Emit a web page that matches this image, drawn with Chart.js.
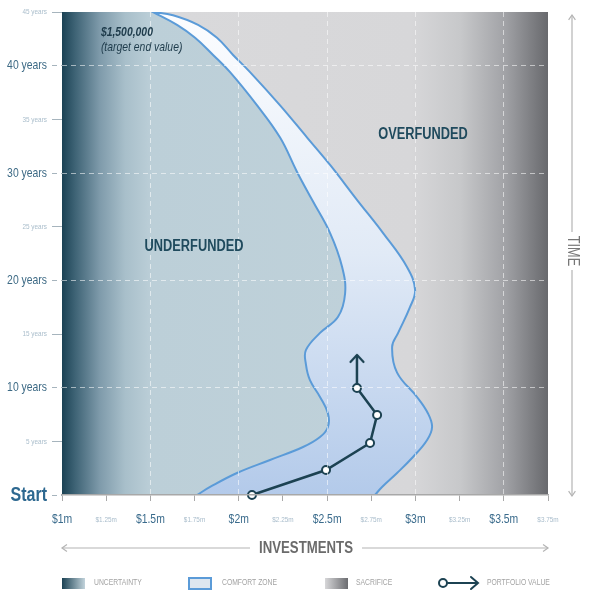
<!DOCTYPE html>
<html>
<head>
<meta charset="utf-8">
<script src="https://cdn.jsdelivr.net/npm/chart.js@4.4.1/dist/chart.umd.min.js"></script>
<style>
  html, body { margin: 0; padding: 0; background: #fff; }
  #wrap { width: 590px; height: 600px; position: relative; }
</style>
</head>
<body>
<div id="wrap"><canvas id="comfortChart"></canvas></div>
<script>
const FONT = "'Liberation Sans', Arial, sans-serif";
const SQUEEZE = 0.8; // no condensed face installed, so text is narrowed by hand
const DARK = "#1c4252";

// comfort zone, left edge (bottom -> top): years vs portfolio value ($m)
const lowerEdgeYears = [0, 0.75, 2.05, 3.26, 4.47, 5.4, 6.34, 7.6, 9.13, 10.7, 12.2, 13.5, 15.1, 16.6, 18.8, 21.25, 24.4, 27.5, 30.1, 33.3, 36.3, 39.4, 41.0, 42.6, 43.8, 45];
const lowerEdgeValue = [1.764, 1.838, 1.99, 2.177, 2.364, 2.46, 2.505, 2.505, 2.46, 2.403, 2.38, 2.38, 2.46, 2.562, 2.602, 2.585, 2.517, 2.415, 2.33, 2.234, 2.104, 1.951, 1.855, 1.753, 1.651, 1.515];

// comfort zone, right edge (top -> bottom)
const upperEdgeYears = [45, 44.7, 43.8, 42.6, 41.0, 39.4, 36.3, 33.3, 30.75, 27.5, 24.4, 21.25, 19.1, 17.5, 15.1, 13.8, 11.4, 9.13, 7.6, 6.34, 5.13, 3.54, 2.05, 0.75, 0];
const upperEdgeValue = [1.515, 1.628, 1.77, 1.877, 1.968, 2.064, 2.234, 2.387, 2.517, 2.669, 2.817, 2.952, 2.998, 2.969, 2.902, 2.868, 2.896, 3.009, 3.071, 3.094, 3.066, 2.986, 2.896, 2.811, 2.771];

// portfolio value path
const portfolioYears = [0, 2.33, 4.85, 7.46, 9.97, 13.05];
const portfolioValue = [2.075, 2.494, 2.743, 2.783, 2.669, 2.669];

const yearTicks = [0, 5, 10, 15, 20, 25, 30, 35, 40, 45];
const valueTicks = [1, 1.25, 1.5, 1.75, 2, 2.25, 2.5, 2.75, 3, 3.25, 3.5, 3.75];
const majorValues = [1, 1.5, 2, 2.5, 3, 3.5];

const zip = (xs, ys) => xs.map((x, i) => ({ x: x, y: ys[i] }));
const lowerEdge = zip(lowerEdgeValue, lowerEdgeYears);
const upperEdge = zip(upperEdgeValue, upperEdgeYears);
const lastUpper = upperEdge[upperEdge.length - 1];

// underfunded area: everything left of the upper edge, closed outside the plot
const underfunded = upperEdge.concat([
  { x: lastUpper.x, y: lastUpper.y },
  { x: lastUpper.x, y: -4 },
  { x: 0.8, y: -4 },
  { x: 0.8, y: 49 },
  { x: upperEdge[0].x, y: 49 }
]);

// arrow head for the last portfolio point
const arrowHead = document.createElement("canvas");
arrowHead.width = 20;
arrowHead.height = 20;
(function () {
  const c = arrowHead.getContext("2d");
  c.strokeStyle = DARK;
  c.lineWidth = 2.2;
  c.lineCap = "round";
  c.lineJoin = "round";
  c.beginPath();
  c.moveTo(3.5, 17);
  c.lineTo(10, 10);
  c.lineTo(16.5, 17);
  c.stroke();
})();

function underfundedFill(ctx) {
  const area = ctx.chart.chartArea;
  if (!area) return "#c1d2da";
  const w = area.right - area.left;
  const g = ctx.chart.ctx.createLinearGradient(area.left, 0, area.right, 0);
  g.addColorStop(0, "#1b4254");
  g.addColorStop(13 / w, "#3e6375");
  g.addColorStop(38 / w, "#7f9bab");
  g.addColorStop(63 / w, "#a8bfca");
  g.addColorStop(90 / w, "#bccfd8");
  g.addColorStop(1, "#c2d3db");
  return g;
}

function comfortFill(ctx) {
  const area = ctx.chart.chartArea;
  if (!area) return "#dce7f4";
  const g = ctx.chart.ctx.createLinearGradient(0, area.top, 0, area.bottom);
  g.addColorStop(0, "#fcfdff");
  g.addColorStop(0.5, "#e1eaf6");
  g.addColorStop(1, "#b3caea");
  return g;
}

function narrowText(ctx, text, x, y, font, color, align) {
  ctx.save();
  ctx.translate(x, y);
  ctx.scale(SQUEEZE, 1);
  ctx.font = font;
  ctx.fillStyle = color;
  ctx.textAlign = align || "center";
  ctx.textBaseline = "middle";
  ctx.fillText(text, 0, 0);
  ctx.restore();
}

// draw a scale's tick labels squeezed horizontally, keeping their anchor points
function squeezeLabels(scale) {
  if (scale._squeezed) return;
  scale._squeezed = true;
  const items = scale.getLabelItems.bind(scale);
  const draw = scale.drawLabels.bind(scale);
  scale.drawLabels = function (area) {
    const ctx = this.ctx;
    this.getLabelItems = a => items(a).map(it => Object.assign({}, it, {
      options: Object.assign({}, it.options, {
        translation: [it.options.translation[0] / SQUEEZE, it.options.translation[1]]
      })
    }));
    this._computeLabelArea = () => undefined;
    ctx.save();
    ctx.scale(SQUEEZE, 1);
    draw(area);
    ctx.restore();
    delete this.getLabelItems;
    delete this._computeLabelArea;
  };
}

const backdrop = {
  id: "backdrop",
  afterLayout(chart) {
    squeezeLabels(chart.scales.x);
    squeezeLabels(chart.scales.y);
  },
  beforeDraw(chart) {
    const { ctx, chartArea: a } = chart;
    const g = ctx.createLinearGradient(a.left, 0, a.right, 0);
    g.addColorStop(0, "#dadadc");
    g.addColorStop(0.72, "#d7d7d9");
    g.addColorStop(0.82, "#c7c8ca");
    g.addColorStop(0.91, "#a2a3a7");
    g.addColorStop(1, "#68696d");
    ctx.save();
    ctx.fillStyle = g;
    ctx.fillRect(a.left, a.top, a.right - a.left, a.bottom - a.top);
    ctx.restore();
  }
};

function arrowLine(ctx, x1, y1, x2, y2) {
  ctx.beginPath();
  ctx.moveTo(x1, y1);
  ctx.lineTo(x2, y2);
  ctx.stroke();
  const ang = Math.atan2(y2 - y1, x2 - x1);
  ctx.beginPath();
  ctx.moveTo(x2 - 6 * Math.cos(ang - 0.6), y2 - 6 * Math.sin(ang - 0.6));
  ctx.lineTo(x2, y2);
  ctx.lineTo(x2 - 6 * Math.cos(ang + 0.6), y2 - 6 * Math.sin(ang + 0.6));
  ctx.stroke();
}

const annotations = {
  id: "annotations",
  afterDraw(chart) {
    const { ctx, chartArea: a, scales: { x, y } } = chart;
    ctx.save();

    // target note
    narrowText(ctx, "$1,500,000", x.getPixelForValue(1.22), y.getPixelForValue(43.06), "italic bold 13px " + FONT, "#1e3b4b", "left");
    narrowText(ctx, "(target end value)", x.getPixelForValue(1.22), y.getPixelForValue(41.66), "italic 13px " + FONT, "#1e3b4b", "left");

    // region labels
    narrowText(ctx, "UNDERFUNDED", x.getPixelForValue(1.747), y.getPixelForValue(23.1), "bold 16px " + FONT, "#1f4a5d");
    narrowText(ctx, "OVERFUNDED", x.getPixelForValue(3.043), y.getPixelForValue(33.6), "bold 16px " + FONT, "#1f4a5d");

    // investments axis arrow
    ctx.strokeStyle = "#b4b4b4";
    ctx.lineWidth = 1.2;
    arrowLine(ctx, 250, 548, a.left, 548);
    arrowLine(ctx, 362, 548, a.right, 548);
    narrowText(ctx, "INVESTMENTS", (a.left + a.right) / 2 + 1, 548, "bold 16.5px " + FONT, "#6b6b6b");

    // time axis arrow
    arrowLine(ctx, 572, 232, 572, 15);
    arrowLine(ctx, 572, 270, 572, 496);
    ctx.save();
    ctx.translate(572, 251);
    ctx.rotate(Math.PI / 2);
    narrowText(ctx, "TIME", 0, 0, "16px " + FONT, "#777");
    ctx.restore();

    // legend
    const ly = 583;
    let g = ctx.createLinearGradient(62, 0, 85, 0);
    g.addColorStop(0, "#1b4254");
    g.addColorStop(1, "#c2d3db");
    ctx.fillStyle = g;
    ctx.fillRect(62, ly - 5, 23, 11);

    ctx.fillStyle = "#dde6ef";
    ctx.fillRect(189, ly - 5, 22, 11);
    ctx.strokeStyle = "#5b9bd8";
    ctx.lineWidth = 2;
    ctx.strokeRect(189, ly - 5, 22, 11);

    g = ctx.createLinearGradient(325, 0, 348, 0);
    g.addColorStop(0, "#d7d7d9");
    g.addColorStop(1, "#6b6c70");
    ctx.fillStyle = g;
    ctx.fillRect(325, ly - 5, 23, 11);

    ctx.strokeStyle = DARK;
    ctx.lineWidth = 2;
    ctx.lineCap = "round";
    ctx.beginPath();
    ctx.moveTo(448, ly);
    ctx.lineTo(478, ly);
    ctx.moveTo(471, ly - 6);
    ctx.lineTo(478, ly);
    ctx.lineTo(471, ly + 6);
    ctx.stroke();
    ctx.beginPath();
    ctx.arc(443, ly, 4, 0, Math.PI * 2);
    ctx.fillStyle = "#fff";
    ctx.fill();
    ctx.stroke();

    const lf = "8.5px " + FONT;
    narrowText(ctx, "UNCERTAINTY", 94, ly, lf, "#a3a3a3", "left");
    narrowText(ctx, "COMFORT ZONE", 222, ly, lf, "#a3a3a3", "left");
    narrowText(ctx, "SACRIFICE", 356, ly, lf, "#a3a3a3", "left");
    narrowText(ctx, "PORTFOLIO VALUE", 487, ly, lf, "#a3a3a3", "left");
    ctx.restore();
  }
};

const isMajor = v => majorValues.some(m => Math.abs(m - v) < 1e-6);
const tickVal = c => (c && c.tick ? c.tick.value : null);

new Chart(document.getElementById("comfortChart"), {
  type: "line",
  data: {
    datasets: [
      {
        label: "Portfolio value",
        data: zip(portfolioValue, portfolioYears),
        borderColor: DARK,
        borderWidth: 2.5,
        tension: 0,
        fill: false,
        clip: false,
        pointStyle: portfolioYears.map((_, i) => i === portfolioYears.length - 1 ? arrowHead : "circle"),
        pointRadius: 4,
        pointBorderWidth: 2,
        pointBackgroundColor: "#fff",
        pointBorderColor: DARK,
        order: 0
      },
      {
        label: "Comfort zone",
        data: lowerEdge.concat(upperEdge),
        borderColor: "#5b9bd8",
        borderWidth: 2,
        backgroundColor: comfortFill,
        fill: "shape",
        tension: 0.4,
        pointRadius: 0,
        order: 1
      },
      {
        label: "Underfunded",
        data: underfunded,
        borderWidth: 0,
        borderColor: "rgba(0,0,0,0)",
        backgroundColor: underfundedFill,
        fill: "shape",
        tension: 0.4,
        pointRadius: 0,
        order: 2
      }
    ]
  },
  options: {
    responsive: true,
    maintainAspectRatio: false,
    animation: false,
    events: [],
    layout: { padding: { top: 12, right: 42, bottom: 0, left: 0 } },
    plugins: {
      legend: { display: false },
      tooltip: { enabled: false }
    },
    scales: {
      x: {
        type: "linear",
        min: 1,
        max: 3.75,
        afterFit: s => { s.height = 105; },
        afterBuildTicks: s => { s.ticks = valueTicks.map(v => ({ value: v })); },
        border: { display: true, color: "#a8a8a8", width: 1.5, dash: [5, 4], z: 1 },
        grid: {
          z: 1,
          color: c => {
            const v = tickVal(c);
            return v !== null && isMajor(v) && v > 1 ? "rgba(255,255,255,0.55)" : "rgba(0,0,0,0)";
          },
          lineWidth: 1,
          tickColor: "#a8a8a8",
          tickLength: 6,
          tickWidth: 1
        },
        ticks: {
          padding: 11,
          maxRotation: 0,
          autoSkip: false,
          callback: v => "$" + v + "m",
          color: c => {
            const v = tickVal(c);
            return v === null || isMajor(v) ? "#3a6b8c" : "#a8bccb";
          },
          font: c => {
            const v = tickVal(c);
            return v === null || isMajor(v)
              ? { family: FONT, size: 13 }
              : { family: FONT, size: 8, lineHeight: 1.95 };
          }
        }
      },
      y: {
        type: "linear",
        min: 0,
        max: 45,
        afterFit: s => { s.width = 62; },
        afterBuildTicks: s => { s.ticks = yearTicks.map(v => ({ value: v })); },
        border: { display: false, dash: [5, 4] },
        grid: {
          z: 1,
          color: c => {
            const v = tickVal(c);
            return v !== null && v % 10 === 0 && v > 0 ? "rgba(255,255,255,0.55)" : "rgba(0,0,0,0)";
          },
          lineWidth: 1,
          tickColor: "#a6b4bd",
          tickBorderDash: c => {
            const v = tickVal(c);
            return v !== null && v % 10 === 0 ? [5, 4] : [];
          },
          tickLength: 10
        },
        ticks: {
          padding: 5,
          autoSkip: false,
          callback: v => (v === 0 ? "Start" : v + " years"),
          color: c => {
            const v = tickVal(c);
            if (v === 0) return "#2d6890";
            return v === null || v % 10 === 0 ? "#3d6a85" : "#a9bdcb";
          },
          font: c => {
            const v = tickVal(c);
            if (v === 0) return { family: FONT, size: 20, weight: "bold" };
            return v === null || v % 10 === 0 ? { family: FONT, size: 13 } : { family: FONT, size: 8 };
          }
        }
      }
    }
  },
  plugins: [backdrop, annotations]
});
</script>
</body>
</html>
